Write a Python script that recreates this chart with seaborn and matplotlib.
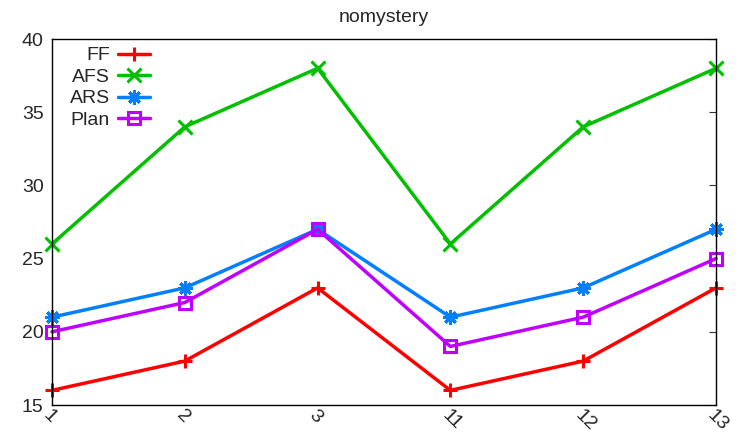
import pandas as pd
import matplotlib.pyplot as plt
import seaborn as sns

# valores
categorias = ['1', '2', '3', '11', '12', '13']
ff = [16, 18, 23, 16, 18, 23]
afs = [26, 34, 38, 26, 34, 38]
ars = [21, 23, 27, 21, 23, 27]
plan = [20, 22, 27, 19, 21, 25]

series = ['FF', 'AFS', 'ARS', 'Plan']
colores = ['#ff0000', '#00c000', '#0080ff', '#c000ff']
marcadores = ['+', 'x', (8, 2, 0), 's']

df = pd.DataFrame({'pos': range(len(categorias)), 'FF': ff, 'AFS': afs, 'ARS': ars, 'Plan': plan})

sns.set_style('white')
plt.rcParams['font.family'] = ['Liberation Sans', 'DejaVu Sans']

fig = plt.figure(figsize=(7.43, 4.32), dpi=100)
ax = fig.add_axes([52 / 743, 1 - 405 / 432, 664 / 743, 366 / 432])

for s, c, m in zip(series, colores, marcadores):
    sns.lineplot(data=df, x='pos', y=s, ax=ax, color=c, marker=m,
                 markersize=8.5 if m == 's' else 10.5,
                 markeredgewidth=2.2, markeredgecolor=c,
                 markerfacecolor='none' if m == 's' else c,
                 linewidth=2.5, label=s, clip_on=False)

ax.set_xlim(0, len(categorias) - 1)
ax.set_ylim(15, 40)
ax.set_yticks([15, 20, 25, 30, 35, 40])
ax.set_xticks(range(len(categorias)))
ax.set_xticklabels(categorias, rotation=-45, ha='left', va='top', rotation_mode='anchor')
ax.tick_params(axis='both', direction='in', length=5, labelsize=14, color='#333333')
ax.tick_params(axis='y', right=True, pad=6)
ax.tick_params(axis='x', pad=1)
ax.set_xlabel('')
ax.set_ylabel('')
for sp in ax.spines.values():
    sp.set_color('black')
    sp.set_linewidth(1.0)
ax.set_title('nomystery', fontsize=14, pad=12)

leg = ax.legend(loc='upper left', markerfirst=False, frameon=False, fontsize=14,
                handlelength=1.65, handletextpad=0.4, borderaxespad=0.0,
                labelspacing=0.2, bbox_to_anchor=(0.015, 1.0))
for t in leg.get_texts():
    t.set_ha('right')
leg._legend_box.align = 'right'
for h in leg.legend_handles:
    h.set_clip_on(False)

plt.savefig('out.png', dpi=100)
